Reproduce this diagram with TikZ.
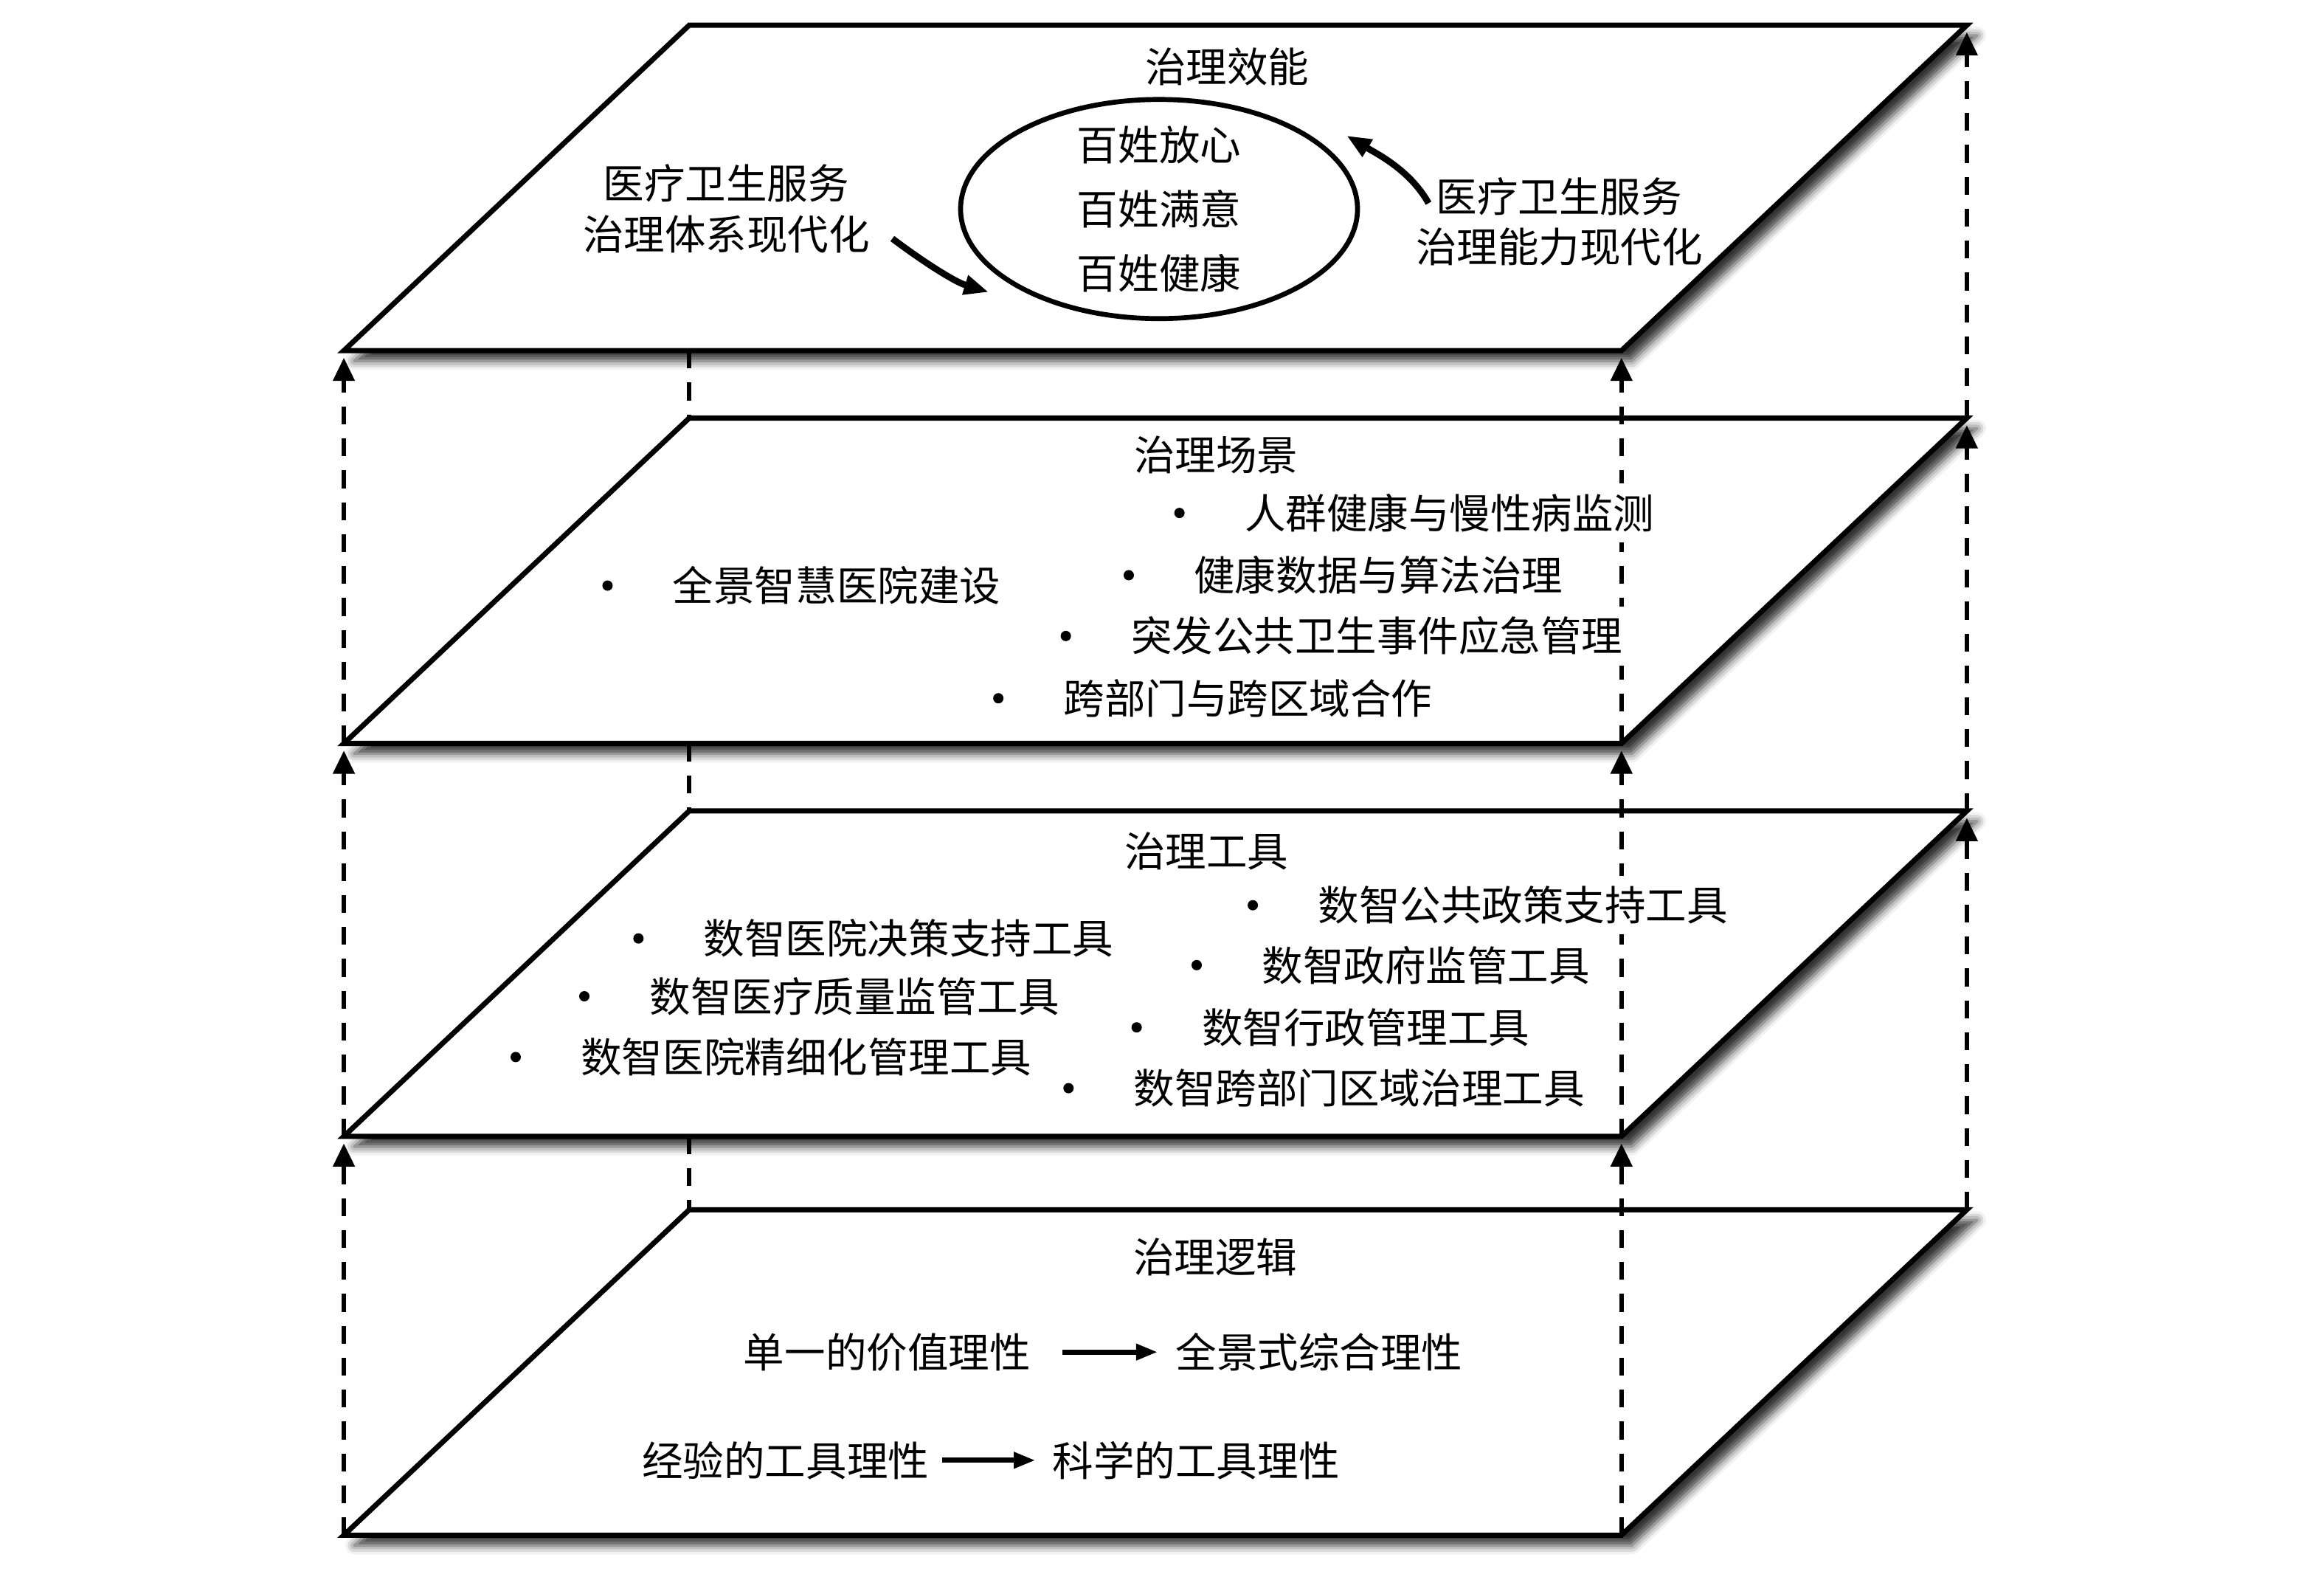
\documentclass[tikz,border=0pt]{standalone}
\usepackage{fontspec}
\setmainfont{Noto Sans CJK SC}
\usetikzlibrary{arrows.meta,shapes.geometric,shadows.blur}

\tikzset{
  slab/.style={draw, line width=2pt, fill=white, line join=miter,
    blur shadow={shadow xshift=1.4mm, shadow yshift=-1.4mm,
      shadow blur radius=1.2mm, shadow opacity=80}},
  riser/.style={line width=1.8pt, dash pattern=on 6.9pt off 5.4pt,
    -{Triangle[length=3.1mm,width=3mm,line width=0.4pt,fill=black]},
    shorten >=1mm},
  hidedge/.style={line width=1.8pt, dash pattern=on 6.9pt off 5.4pt},
  plaintxt/.style={inner sep=4pt},
  txt/.style={plaintxt, fill=white},
  bulletdot/.style={circle, fill=black, inner sep=0pt, minimum size=1.4mm},
  item/.style={txt, label={[bulletdot, label distance=6.6mm]left:{}}},
  ring/.style={ellipse, draw, line width=1.9pt, inner sep=0pt,
    minimum width=53.8mm, minimum height=29.7mm},
  swing/.style={line width=2.5pt,
    -{Triangle[length=3.2mm,width=2.8mm,line width=0.4pt,fill=black]}},
  push/.style={line width=1.9pt,
    -{Triangle[length=2.8mm,width=2.3mm,line width=0.4pt,fill=black]}}
}

\begin{document}
\begin{tikzpicture}[x=0.2009mm, y=-0.2009mm,
    font=\fontsize{15.8pt}{19.6pt}\selectfont]
\useasboundingbox (0,0) rectangle (1568,1063.25);

% four stacked planes
\foreach \n/\ty in {1/17,2/282,3/547,4/816}{
  \coordinate (tl\n) at (465,\ty);
  \coordinate (tr\n) at (1327,\ty);
  \coordinate (br\n) at (1094,\ty+219.5);
  \coordinate (bl\n) at (232,\ty+219.5);
  \draw[slab] (tl\n) -- (tr\n) -- (br\n) -- (bl\n) -- cycle;
}

% vertical edges between the planes
\foreach \n/\m in {1/2,2/3,3/4}{
  \draw[riser] (bl\m) -- (bl\n);
  \draw[riser] (br\m) -- (br\n);
  \draw[riser] (tr\m) -- (tr\n);
  \draw[hidedge] (tl\m |- bl\n) -- (tl\m);
}

% plane 1
\node[txt] (eff) at (828,45) {治理效能};
\node[ring] (core) at (782,141) {};
\node[plaintxt, align=center, font=\fontsize{15.8pt}{24.7pt}\selectfont]
  (people) at (core) {百姓放心\\百姓满意\\百姓健康};
\node[plaintxt, align=center] (sys) at (490,141) {医疗卫生服务\\治理体系现代化};
\node[plaintxt, align=center] (cap) at (1052,149.5) {医疗卫生服务\\治理能力现代化};
\draw[swing] ([xshift=1.6mm,yshift=-4mm]sys.east)
  .. controls (622,176) and (644,190) .. ([xshift=-3.97mm,yshift=-0.48mm]core.south west);
\draw[swing] ([xshift=3.2mm,yshift=2.5mm]cap.west)
  .. controls (951.5,115) and (929.5,104) .. ([xshift=6.28mm,yshift=-0.86mm]core.north east);

% plane 2
\node[txt] (scene) at (820.5,307) {治理场景};
\node[item] (s1) at (564.5,395) {全景智慧医院建设};
\node[item] (s2) at (978,346) {人群健康与慢性病监测};
\node[item] (s3) at (930,388) {健康数据与算法治理};
\node[item] (s4) at (929,429) {突发公共卫生事件应急管理};
\node[item] (s5) at (842,471) {跨部门与跨区域合作};

% plane 3
\node[txt] (tool) at (814,574) {治理工具};
\node[item] (t1) at (613,633) {数智医院决策支持工具};
\node[item] (t2) at (576.5,672) {数智医疗质量监管工具};
\node[item] (t3) at (544,713) {数智医院精细化管理工具};
\node[item] (t4) at (1027.5,610.6) {数智公共政策支持工具};
\node[item] (t5) at (962,651) {数智政府监管工具};
\node[item] (t6) at (921.5,693) {数智行政管理工具};
\node[item] (t7) at (917,734) {数智跨部门区域治理工具};

% plane 4
\node[txt] (logic) at (820,848) {治理逻辑};
\node[txt] (val1) at (598.5,912) {单一的价值理性};
\node[txt] (val2) at (890,912) {全景式综合理性};
\node[txt] (ins1) at (530,985) {经验的工具理性};
\node[txt] (ins2) at (807,985) {科学的工具理性};
\draw[push, shorten <=2.9mm, shorten >=1.1mm] (val1) -- (val2);
\draw[push, shorten <=0.3mm, shorten >=1mm] (ins1) -- (ins2);
\end{tikzpicture}
\end{document}
